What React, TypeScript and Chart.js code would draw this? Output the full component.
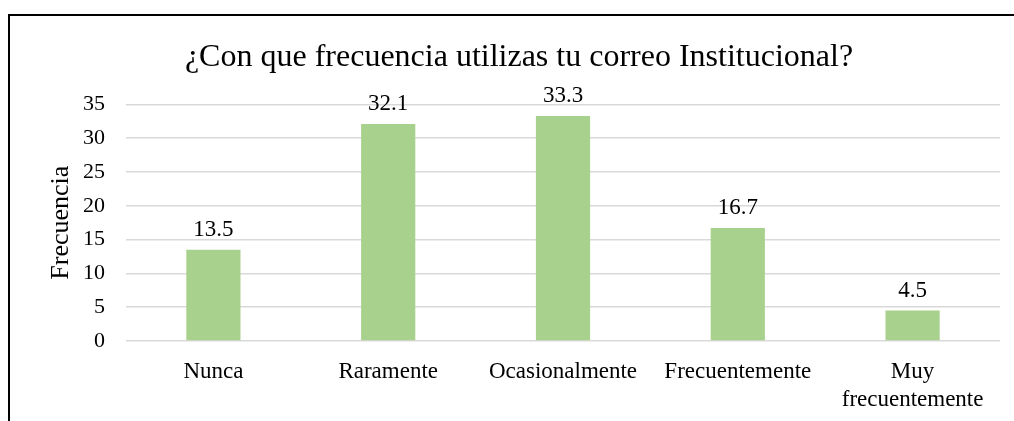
import React, { useEffect, useRef } from "react";
import { Chart, registerables } from "chart.js";

Chart.register(...registerables);

const categories: (string | string[])[] = ["Nunca", "Raramente", "Ocasionalmente", "Frecuentemente", ["Muy", "frecuentemente"]];
const values: number[] = [13.5, 32.1, 33.3, 16.7, 4.5];
const titleText = "¿Con que frecuencia utilizas tu correo Institucional?";
const yAxisTitle = "Frecuencia";
const yMin = 0;
const yMax = 35;
const yStep = 5;

const FONT = "'Liberation Serif', 'Times New Roman', serif";

const dataLabelPlugin = {
  id: "dataLabels",
  afterDatasetsDraw(chart: any) {
    const ctx = chart.ctx;
    const meta = chart.getDatasetMeta(0);
    ctx.save();
    ctx.font = `23px ${FONT}`;
    ctx.fillStyle = "#000000";
    ctx.textAlign = "center";
    ctx.textBaseline = "alphabetic";
    meta.data.forEach((bar: any, i: number) => {
      ctx.fillText(String(values[i]), bar.x, bar.y - 14);
    });
    ctx.restore();
  },
};

export default function App() {
  const ref = useRef<HTMLCanvasElement | null>(null);
  useEffect(() => {
    if (!ref.current) return;
    const chart = new Chart(ref.current, {
      type: "bar",
      data: {
        labels: categories,
        datasets: [
          {
            data: values,
            backgroundColor: "#A9D18E",
            borderWidth: 0,
            barPercentage: 0.31,
            categoryPercentage: 1,
          },
        ],
      },
      options: {
        animation: false,
        responsive: false,
        maintainAspectRatio: false,
        layout: { padding: { left: 38, right: 14, top: 0, bottom: 0 } },
        plugins: {
          legend: { display: false },
          tooltip: { enabled: false },
          title: {
            display: true,
            text: titleText,
            color: "#000000",
            font: { family: FONT, size: 32, weight: "normal", lineHeight: 1.2 },
            padding: { top: 38, bottom: 28 },
          },
        },
        scales: {
          x: {
            grid: { display: false },
            border: { display: false },
            ticks: {
              color: "#000000",
              font: { family: FONT, size: 23, lineHeight: 1.22 },
              padding: 9,
              maxRotation: 0,
              autoSkip: false,
            },
            afterFit(scale: any) {
              scale.height = 80;
            },
          },
          y: {
            min: yMin,
            max: yMax,
            ticks: {
              stepSize: yStep,
              color: "#000000",
              font: { family: FONT, size: 22 },
              padding: 21,
            },
            grid: { color: "#D9D9D9", lineWidth: 1.5, drawTicks: false },
            border: { display: false },
            title: {
              display: true,
              text: yAxisTitle,
              color: "#000000",
              font: { family: FONT, size: 26, lineHeight: 1.2 },
              padding: { top: 8, bottom: 0 },
            },
            afterFit(scale: any) {
              scale.width = 88;
            },
          },
        },
      },
      plugins: [dataLabelPlugin],
    });
    return () => chart.destroy();
  }, []);

  return (
    <div
      style={{
        position: "fixed",
        left: 0,
        top: 0,
        width: 1014,
        height: 421,
        overflow: "hidden",
        background: "#ffffff",
      }}
    >
      <canvas ref={ref} width={1014} height={421} style={{ position: "absolute", left: 0, top: 0, width: 1014, height: 421 }} />
      <div
        style={{
          position: "absolute",
          left: 8,
          top: 14,
          width: 1100,
          height: 500,
          borderLeft: "2px solid #000000",
          borderTop: "2px solid #000000",
          pointerEvents: "none",
        }}
      />
    </div>
  );
}
